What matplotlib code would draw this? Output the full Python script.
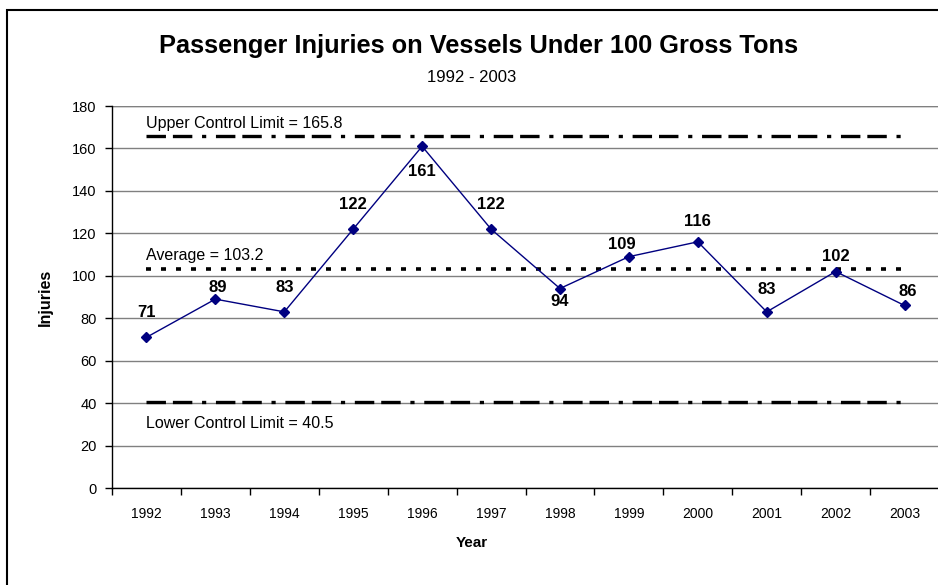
import matplotlib

matplotlib.use("Agg")
import matplotlib.pyplot as plt
from matplotlib.patches import Rectangle

plt.rcParams["font.family"] = ["Liberation Sans", "DejaVu Sans"]
plt.rcParams["lines.scale_dashes"] = False

# data
years = ["1992", "1993", "1994", "1995", "1996", "1997",
         "1998", "1999", "2000", "2001", "2002", "2003"]
injuries = [71, 89, 83, 122, 161, 122, 94, 109, 116, 83, 102, 86]
ucl = 165.8
avg = 103.2
lcl = 40.5

# label offsets in pixels (dy > 0 = above the point)
label_dy = [25, 12, 24, 25, -25, 25, -13, 12, 20, 22, 15, 14]
label_dx = [0, 2, 0, 0, 0, 0, 0, -7, 0, 0, 0, 3]

NAVY = "#000080"
GRID = "#808080"

W, H = 938, 585
fig = plt.figure(figsize=(W / 100, H / 100), dpi=100)

# chart area border (left + top visible, the rest runs off the image)
top = 1 - 10 / H
fig.patches.append(Rectangle((7 / W, -0.2), 1.2, top + 0.2, transform=fig.transFigure,
                             fill=False, edgecolor="black", lw=1.5))

ax = fig.add_axes([112 / W, 1 - 488 / H, 827 / W, (488 - 106) / H])
x = list(range(len(years)))

ax.set_xlim(-0.5, len(years) - 0.5)
ax.set_ylim(0, 180)
ax.set_yticks(range(0, 181, 20))
ax.set_xticks(x)
ax.set_xticklabels(years, fontsize=10)
ax.set_xticks([i - 0.5 for i in range(len(years) + 1)], minor=True)
ax.tick_params(axis="x", which="major", length=0, pad=14)
ax.tick_params(axis="x", which="minor", length=5, width=1, direction="out")
ax.tick_params(axis="y", length=5, width=1, direction="out", labelsize=10.5, pad=6)

ax.grid(axis="y", color=GRID, lw=1)
ax.set_axisbelow(True)
for s in ["top", "right"]:
    ax.spines[s].set_visible(False)
ax.spines["left"].set_linewidth(1)
ax.spines["bottom"].set_linewidth(1)
ax.axhline(180, color=GRID, lw=1, zorder=0)

# control lines
dashdot = (0, (14, 5, 14, 7, 3, 7))
ax.plot([x[0], x[-1]], [ucl, ucl], color="black", lw=2.4, linestyle=dashdot)
ax.plot([x[0], x[-1]], [lcl, lcl], color="black", lw=2.4, linestyle=dashdot)
ax.plot([x[0], x[-1]], [avg, avg], color="black", lw=2.6, linestyle=(0, (3.6, 7.2)))

ax.text(0, ucl + 6.1, "Upper Control Limit = 165.8", fontsize=11.5, va="center", ha="left")
ax.text(0, avg + 6.3, "Average = 103.2", fontsize=11.5, va="center", ha="left")
ax.text(0, lcl - 10, "Lower Control Limit = 40.5", fontsize=11.5, va="center", ha="left")

ax.plot(x, injuries, color=NAVY, lw=1, marker="D", markersize=5, zorder=5)
for xi, v, dy, dx in zip(x, injuries, label_dy, label_dx):
    ax.annotate(str(v), (xi, v), xytext=(dx * 0.72, dy * 0.72), textcoords="offset points",
                ha="center", va="center", fontsize=12, weight="bold")

ax.set_ylabel("Injuries", fontsize=11.5, weight="bold")
ax.yaxis.set_label_coords((53 - 112) / 827, 0.5)

fig.text(479 / W, 1 - 46 / H, "Passenger Injuries on Vessels Under 100 Gross Tons",
         ha="center", va="center", fontsize=18.3, weight="bold")
fig.text(472 / W, 1 - 78 / H, "1992 - 2003", ha="center", va="center", fontsize=12)
fig.text(472 / W, 1 - 543 / H, "Year", ha="center", va="center", fontsize=11, weight="bold")

fig.savefig("out.png", dpi=100)
plt.close()
